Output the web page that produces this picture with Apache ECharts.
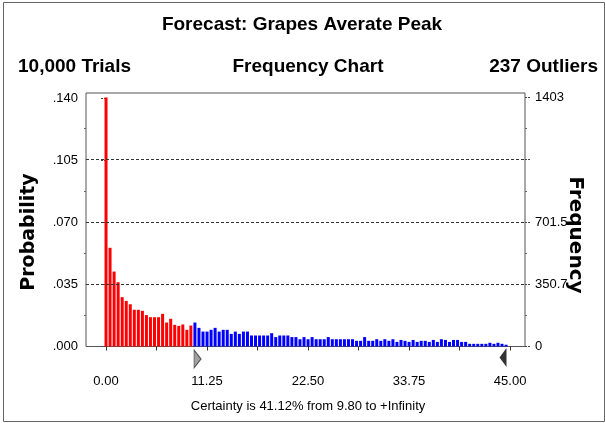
<!DOCTYPE html>
<html><head><meta charset="utf-8">
<script src="https://cdn.jsdelivr.net/npm/echarts@6/dist/echarts.min.js"></script>
<style>html,body{margin:0;padding:0;background:#fff}#c{width:605px;height:423px}</style>
</head><body><div id="c"></div>
<script>
// ---- data ----
const binWidth = 0.45;
const counts = [
  1403, 556, 422, 362, 278, 257, 238, 207, 207, 201,
  177, 165, 165, 165, 184, 135, 156, 122, 116, 124,
  94, 118, 135, 105, 84, 84, 94, 105, 84, 94,
  94, 71, 84, 71, 84, 84, 62, 62, 62, 62,
  62, 75, 53, 62, 62, 62, 53, 53, 41, 53,
  41, 53, 41, 41, 41, 53, 41, 41, 41, 41,
  41, 41, 32, 32, 53, 32, 32, 41, 32, 41,
  32, 41, 26, 37, 32, 26, 37, 26, 32, 32,
  26, 37, 26, 41, 37, 26, 37, 37, 26, 26,
  15, 15, 15, 15, 15, 21, 15, 21, 15, 10
];
const cutoff = 9.80;
const upperMarker = 44.6;
const xLabelValues = [0, 11.25, 22.5, 33.75, 45];
const xTickValues = [0, 5.625, 11.25, 16.875, 22.5, 28.125, 33.75, 39.375, 45];
const probLabelValues = [0, 0.035, 0.070, 0.105, 0.140];
const freqLabelValues = [0, 350.75, 701.5, 1403];
const freqTickValues = [0, 350.75, 701.5, 1052.25, 1403];
const gridValues = [350.75, 701.5, 1052.25];
const titleText = 'Forecast: Grapes Averate Peak';
const trialsText = '10,000 Trials';
const chartText = 'Frequency Chart';
const outliersText = '237 Outliers';
const certaintyText = 'Certainty is 41.12% from 9.80 to +Infinity';

// ---- chart ----
const FONT = 'Liberation Sans, Arial, sans-serif';
const WIDE = 'DejaVu Sans, Verdana, sans-serif';
const freqMax = 1428;
const probMax = freqMax / 10000;
const minorFreq = freqTickValues.slice(1).map((v, i) => (v + freqTickValues[i]) / 2);

const barData = counts.map((c, i) => ({
  value: [i * binWidth, c],
  itemStyle: { color: i * binWidth < cutoff ? '#ff0000' : '#0000ff' }
}));

const chart = echarts.init(document.getElementById('c'), null, { renderer: 'canvas' });
chart.setOption({
  animation: false,
  backgroundColor: '#fff',
  textStyle: { fontFamily: FONT },
  grid: { left: 86, right: 80, top: 93, bottom: 76.5, show: true, borderColor: '#555', borderWidth: 1, backgroundColor: 'transparent' },
  xAxis: [{
    type: 'value', min: -2.23, max: 46.66,
    axisLine: { show: false },
    splitLine: { show: false },
    axisTick: { show: true, customValues: xTickValues, length: 4, lineStyle: { color: '#333' } },
    axisLabel: { customValues: xLabelValues, formatter: v => v.toFixed(2), margin: 28, fontSize: 13, color: '#000', fontFamily: FONT }
  }],
  yAxis: [
    {
      type: 'value', position: 'left', min: 0, max: probMax,
      axisLine: { show: false }, splitLine: { show: false },
      axisTick: { show: true, customValues: probLabelValues, length: 6, lineStyle: { color: '#444', type: [2, 1] } },
      axisLabel: { customValues: probLabelValues, formatter: v => v.toFixed(3).replace(/^0/, ''), margin: 8, fontSize: 13, color: '#000', fontFamily: FONT }
    },
    {
      type: 'value', position: 'right', min: 0, max: freqMax,
      axisLine: { show: false }, splitLine: { show: false },
      axisTick: { show: true, customValues: freqTickValues, length: 6, lineStyle: { color: '#444', type: [2, 1] } },
      axisLabel: { customValues: freqLabelValues, formatter: v => String(Math.floor(v * 10) / 10), margin: 10, fontSize: 13, color: '#000', fontFamily: FONT }
    },
    {
      type: 'value', position: 'left', min: 0, max: freqMax,
      axisLine: { show: false }, splitLine: { show: false },
      axisTick: { show: true, customValues: minorFreq, length: 2, lineStyle: { color: '#666' } },
      axisLabel: { show: false }
    },
    {
      type: 'value', position: 'right', min: 0, max: freqMax,
      axisLine: { show: false }, splitLine: { show: false },
      axisTick: { show: true, customValues: minorFreq, length: 2, lineStyle: { color: '#666' } },
      axisLabel: { show: false }
    }
  ],
  series: [
    {
      type: 'bar', xAxisIndex: 0, yAxisIndex: 1, barWidth: 3, data: barData,
      markLine: {
        silent: true, symbol: 'none', label: { show: false },
        lineStyle: { type: [3, 2], color: '#333', width: 1 },
        data: gridValues.map(v => ({ yAxis: v }))
      }
    },
    {
      type: 'scatter', xAxisIndex: 0, yAxisIndex: 1, clip: false, z: 5,
      data: [
        { value: [cutoff, 0], symbol: 'path://M0,0L10,9L0,18Z', symbolSize: [7, 18], symbolOffset: [3.5, 12.5],
          itemStyle: { color: '#8a8a8a', borderColor: '#333', borderWidth: 1 } },
        { value: [upperMarker, 0], symbol: 'path://M10,0L0,9L10,18Z', symbolSize: [7, 19], symbolOffset: [-3.5, 11],
          itemStyle: { color: '#000' } }
      ]
    }
  ],
  graphic: [
    { type: 'rect', shape: { x: 3.5, y: 2.5, width: 601, height: 419 }, style: { fill: 'none', stroke: '#666', lineWidth: 1 }, silent: true },
    { type: 'text', x: 302, y: 25, style: { text: titleText, font: 'bold 19px ' + FONT, fill: '#000', textAlign: 'center', textVerticalAlign: 'middle' } },
    { type: 'text', x: 18, y: 67, style: { text: trialsText, font: 'bold 19px ' + FONT, fill: '#000', textAlign: 'left', textVerticalAlign: 'middle' } },
    { type: 'text', x: 308, y: 67, style: { text: chartText, font: 'bold 19px ' + FONT, fill: '#000', textAlign: 'center', textVerticalAlign: 'middle' } },
    { type: 'text', x: 598, y: 67, style: { text: outliersText, font: 'bold 19px ' + FONT, fill: '#000', textAlign: 'right', textVerticalAlign: 'middle' } },
    { type: 'text', x: 29, y: 232, rotation: Math.PI / 2, style: { text: 'Probability', font: 'bold 19px ' + WIDE, fill: '#000', textAlign: 'center', textVerticalAlign: 'middle' } },
    { type: 'text', x: 575, y: 235, rotation: -Math.PI / 2, style: { text: 'Frequency', font: 'bold 20px ' + WIDE, fill: '#000', textAlign: 'center', textVerticalAlign: 'middle' } },
    { type: 'text', x: 308, y: 406, style: { text: certaintyText, font: '13px ' + FONT, fill: '#000', textAlign: 'center', textVerticalAlign: 'middle' } }
  ]
});
</script>
</body></html>
